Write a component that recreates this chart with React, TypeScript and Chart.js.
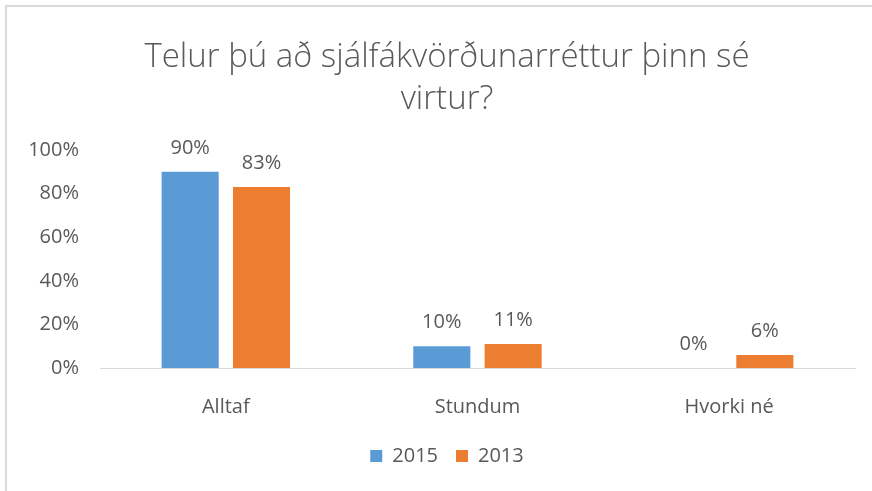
import React, { useEffect, useRef } from "react";
import { Chart, registerables } from "chart.js";

Chart.register(...registerables);

const categories = ["Alltaf", "Stundum", "Hvorki né"];
const series2015 = [0.9, 0.1, 0.0];
const series2013 = [0.83, 0.11, 0.06];
const seriesNames = ["2015", "2013"];
const titleLines = ["Telur þú að sjálfákvörðunarréttur þinn sé", "virtur?"];

const TEXT = "#595959";
const FONT = "'Open Sans', 'Liberation Sans', sans-serif";
const PAD_LEFT = 39;

const valueLabels = {
  id: "valueLabels",
  afterLayout(chart: any) {
    // let the y tick labels extend past the left padding without being clipped
    const y = chart.scales.y;
    if (y) y.left = 0;
  },
  afterDatasetsDraw(chart: any) {
    const ctx = chart.ctx;
    ctx.save();
    ctx.font = `20px ${FONT}`;
    ctx.fillStyle = TEXT;
    ctx.textAlign = "center";
    ctx.textBaseline = "middle";
    chart.data.datasets.forEach((ds: any, di: number) => {
      const meta = chart.getDatasetMeta(di);
      meta.data.forEach((el: any, i: number) => {
        const v = ds.data[i] as number;
        ctx.fillText(Math.round(v * 100) + "%", el.x, el.y - 24);
      });
    });
    ctx.restore();
  },
};

export default function App() {
  const ref = useRef<HTMLCanvasElement>(null);
  useEffect(() => {
    if (!ref.current) return;
    const chart = new Chart(ref.current, {
      type: "bar",
      data: {
        labels: categories,
        datasets: [
          {
            label: seriesNames[0],
            data: series2015,
            backgroundColor: "#5B9BD5",
            categoryPercentage: 0.567,
            barPercentage: 0.8,
          },
          {
            label: seriesNames[1],
            data: series2013,
            backgroundColor: "#ED7D31",
            categoryPercentage: 0.567,
            barPercentage: 0.8,
          },
        ],
      },
      options: {
        responsive: false,
        animation: false,
        layout: { padding: { left: PAD_LEFT, right: 17, top: 0, bottom: 15 } },
        plugins: {
          title: {
            display: true,
            text: titleLines,
            color: TEXT,
            font: { family: FONT, size: 33, weight: "300" as any, lineHeight: 42 / 33 },
            padding: { top: 37, bottom: 29 },
          },
          legend: {
            position: "bottom",
            labels: {
              boxWidth: 12,
              boxHeight: 12,
              padding: 18,
              color: TEXT,
              font: { family: FONT, size: 20 },
            },
          },
          tooltip: { enabled: false },
        },
        scales: {
          x: {
            grid: { display: false, drawTicks: false },
            border: { display: true, color: "#d9d9d9", width: 1 },
            ticks: { color: TEXT, font: { family: FONT, size: 20 }, padding: 27 },
            afterFit: (s: any) => {
              s.height = s.height - 18;
            },
          },
          y: {
            min: 0,
            max: 1,
            grid: { display: false, drawTicks: false },
            border: { display: false },
            afterFit: (s: any) => {
              s.width = 100 - PAD_LEFT;
            },
            ticks: {
              stepSize: 0.2,
              color: TEXT,
              font: { family: FONT, size: 20 },
              padding: 21,
              callback: (v: any) => Math.round(Number(v) * 100) + "%",
            },
          },
        },
      },
      plugins: [valueLabels],
    });
    return () => chart.destroy();
  }, []);
  return (
    <div
      style={{
        position: "fixed",
        left: 0,
        top: 0,
        width: 872,
        height: 491,
        background: "#fff",
        overflow: "hidden",
      }}
    >
      <div
        style={{
          position: "absolute",
          left: 5,
          top: 5,
          width: 920,
          height: 520,
          borderLeft: "2px solid #d9d9d9",
          borderTop: "2px solid #d9d9d9",
        }}
      />
      <canvas
        ref={ref}
        width={872}
        height={491}
        style={{ position: "absolute", left: 0, top: 0 }}
      />
    </div>
  );
}
